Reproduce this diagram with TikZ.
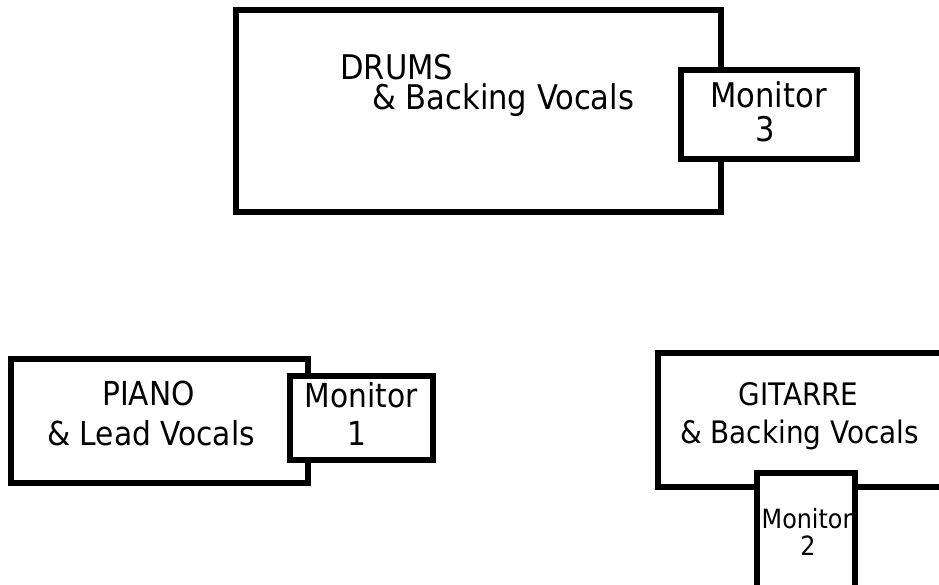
\documentclass[tikz,border=0pt]{standalone}
\usepackage{fontspec}
\setmainfont{DejaVu Sans Condensed}
\begin{document}
\begin{tikzpicture}[x=1pt,y=-1pt,
  box/.style={draw=black, line width=6pt, fill=white, rectangle, inner sep=0pt},
  lbl/.style={anchor=base, inner sep=0pt},
  big/.style={font=\fontsize{34}{36}\selectfont},
  pia/.style={font=\fontsize{33}{35}\selectfont},
  mid/.style={font=\fontsize{31}{34}\selectfont},
  small/.style={font=\fontsize{26.5}{28}\selectfont}]
\useasboundingbox (0,0) rectangle (939,585);
\clip (0,0) rectangle (939,585);
\fill[white] (0,0) rectangle (939,585);
% Drums
\node[box, minimum width=485pt, minimum height=202pt] (drums) at (478.5,111) {};
\node[box, minimum width=176pt, minimum height=89pt] (mon3) at (769,114.5) {};
\node[lbl, big, anchor=base west] (drumsA) at (340,80) {DRUMS};
\node[lbl, big, anchor=base west] (drumsB) at (372,110) {\& Backing Vocals};
\node[lbl, big] (mon3A) at (768.5,108) {Monitor};
\node[lbl, big] (mon3B) at (765,142) {3};
% Piano
\node[box, minimum width=297pt, minimum height=124pt] (piano) at (159.5,421) {};
\node[box, minimum width=143pt, minimum height=84pt] (mon1) at (361.5,418) {};
\node[lbl, pia] (pianoA) at (148.5,405) {PIANO};
\node[lbl, pia] (pianoB) at (151,445) {\& Lead Vocals};
\node[lbl, pia] (mon1A) at (361,407) {Monitor};
\node[lbl, pia] (mon1B) at (357,445) {1};
% Gitarre
\node[box, minimum width=312pt, minimum height=134pt] (git) at (814,420) {};
\node[box, minimum width=98pt, minimum height=147pt] (mon2) at (806,546.5) {};
\node[lbl, mid] (gitA) at (798.5,405) {GITARRE};
\node[lbl, mid] (gitB) at (799.5,443) {\& Backing Vocals};
\node[lbl, small] (mon2A) at (807,528) {Monitor};
\node[lbl, small] (mon2B) at (808,555) {2};
\end{tikzpicture}
\end{document}
